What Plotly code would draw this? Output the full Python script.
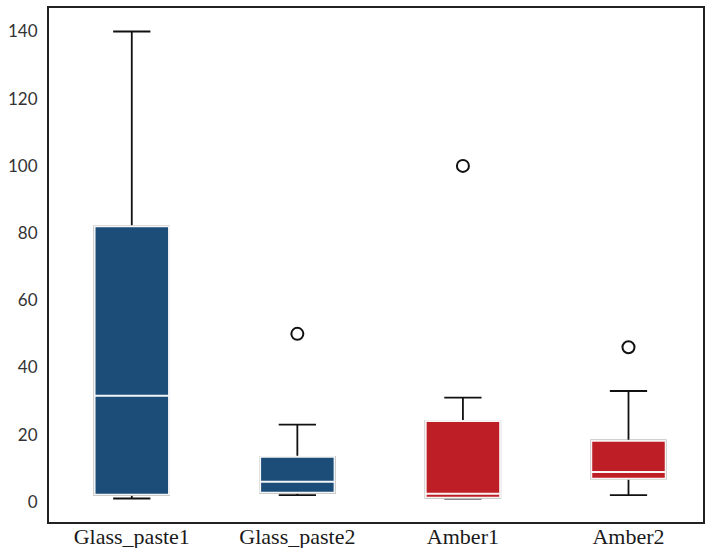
import plotly.graph_objects as go

categories = ["Glass_paste1", "Glass_paste2", "Amber1", "Amber2"]
lower_fence = [1, 2, 1, 2]
q1 = [2.1, 2.7, 1.2, 6.9]
median = [31.6, 6.0, 2.4, 8.9]
q3 = [82, 13.4, 24.1, 18.2]
upper_fence = [140, 23, 31, 33]
outlier_cat = ["Glass_paste2", "Amber1", "Amber2"]
outlier_val = [50, 100, 46]
fill_colors = ["#1c4d78", "#1c4d78", "#be1f26", "#be1f26"]

fig = go.Figure()
for i, c in enumerate(categories):
    # whiskers (black)
    fig.add_trace(go.Box(
        x=[c], q1=[q1[i]], median=[median[i]], q3=[q3[i]],
        lowerfence=[lower_fence[i]], upperfence=[upper_fence[i]],
        fillcolor=fill_colors[i], line=dict(color="#111111", width=1.8),
        whiskerwidth=0.5, width=0.45, boxpoints=False, showlegend=False,
        hoverinfo="skip"))
    # box with white median
    fig.add_trace(go.Box(
        x=[c], q1=[q1[i]], median=[median[i]], q3=[q3[i]],
        lowerfence=[q1[i]], upperfence=[q3[i]],
        fillcolor=fill_colors[i], line=dict(color="rgba(255,255,255,0.95)", width=2),
        whiskerwidth=0, width=0.45, boxpoints=False, showlegend=False))

fig.add_trace(go.Scatter(
    x=outlier_cat, y=outlier_val, mode="markers",
    marker=dict(symbol="circle-open", size=12, color="#111111", line=dict(width=2, color="#111111")),
    showlegend=False))

fig.update_layout(
    width=705, height=548,
    margin=dict(l=49, r=2, t=8, b=26),
    paper_bgcolor="white", plot_bgcolor="white",
    boxmode="overlay",
    xaxis=dict(
        type="category", categoryorder="array", categoryarray=categories,
        range=[-0.5, 3.45], showgrid=False, zeroline=False,
        showline=True, linecolor="#222222", linewidth=2, mirror=True,
        ticks="", automargin=False, ticklabelstandoff=-6,
        tickfont=dict(family="Liberation Serif", size=22, color="#1a1a1a"),
    ),
    yaxis=dict(
        range=[-6, 147], tickvals=[0, 20, 40, 60, 80, 100, 120, 140],
        showgrid=False, zeroline=False,
        showline=True, linecolor="#222222", linewidth=2, mirror=True,
        ticks="", automargin=False, ticklabelstandoff=6,
        tickfont=dict(family="Lato", size=17, color="#333333"),
    ),
)
fig.write_html(
    "out.html",
    config={"displayModeBar": False},
    post_script="document.body.style.margin='0px';document.body.style.overflow='hidden';",
)
